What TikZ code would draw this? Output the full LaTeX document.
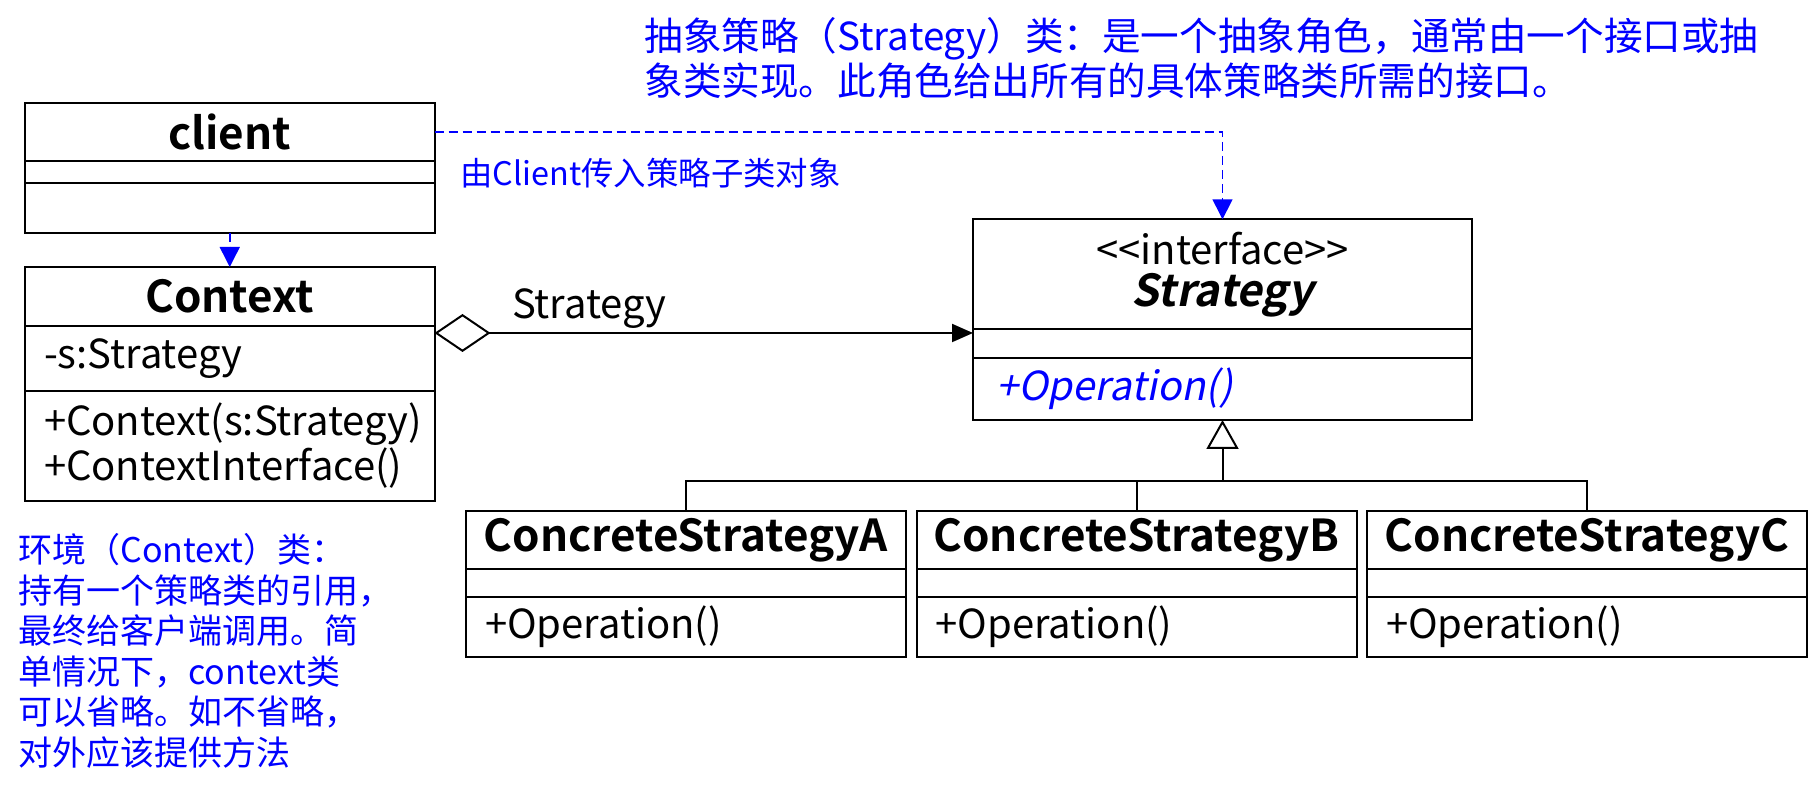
\documentclass[tikz,border=0pt]{standalone}
\usepackage{fontspec}
\setmainfont{Noto Sans CJK SC}[BoldFont={* Bold}, ItalicFont={*}, ItalicFeatures={FakeSlant=0.2}, BoldItalicFont={* Bold}, BoldItalicFeatures={FakeSlant=0.2}]
\definecolor{noteblue}{RGB}{0, 0, 255}
\usepackage{tikz}
\usetikzlibrary{arrows.meta, positioning}

\tikzset{
  classbox/.style={draw, line width=1pt, outer sep=0pt, inner ysep=0pt},
  classhead/.style={classbox, align=center, font=\fontsize{22}{21}\selectfont\bfseries},
  classpart/.style={classbox, align=left, inner xsep=9.5pt, font=\fontsize{20}{22.5}\selectfont},
  notetext/.style={text=noteblue, align=left, inner sep=0pt},
  depends/.style={noteblue, line width=0.75pt, dash pattern=on 4.5pt off 2.5pt, -{Triangle[length=10pt, width=10pt]}}
}

\begin{document}
\begin{tikzpicture}[x=0.5pt, y=-0.5pt]
  \useasboundingbox (0,0) rectangle (1813,790);

  % client
  \node[classhead, anchor=north west, minimum width=204.75pt, minimum height=29pt] (clienthead) at (25,103) {client};
  \node[classpart, below=0pt of clienthead, text width=185.75pt, minimum height=10.85pt] (clientattr) {};
  \node[classpart, below=0pt of clientattr, text width=185.75pt, minimum height=25pt] (clientops) {};

  % Context
  \node[classhead, below=17.15pt of clientops, minimum width=204.75pt, minimum height=29.5pt] (ctxhead) {Context};
  \node[classpart, below=0pt of ctxhead, text width=185.75pt, minimum height=32.35pt] (ctxattr) {-s:Strategy};
  \node[classpart, below=0pt of ctxattr, text width=185.75pt, minimum height=55.15pt] (ctxops) {+Context(s:Strategy)\\+ContextInterface()};

  % Strategy interface
  \node[classhead, anchor=north west, minimum width=249.5pt, minimum height=55pt] (strathead) at (973,219.3)
    {{\fontsize{20}{21}\selectfont\mdseries <{}<interface>{}>}\\\textit{Strategy}};
  \node[classpart, below=0pt of strathead, inner xsep=11.5pt, text width=226.5pt, minimum height=14.2pt] (stratattr) {};
  \node[classpart, below=0pt of stratattr, inner xsep=11.5pt, text width=226.5pt, minimum height=31.15pt,
    text=noteblue, font=\fontsize{20}{22.5}\selectfont\itshape] (stratops) {+Operation()};

  % concrete strategies
  \node[classhead, anchor=north west, minimum width=220pt, minimum height=29.3pt] (csahead) at (466,510.7) {ConcreteStrategyA};
  \node[classhead, right=5.25pt of csahead, minimum width=220pt, minimum height=29.3pt] (csbhead) {ConcreteStrategyB};
  \node[classhead, right=5.25pt of csbhead, minimum width=220pt, minimum height=29.3pt] (cschead) {ConcreteStrategyC};
  \foreach \cs in {csa, csb, csc} {
    \node[classpart, below=0pt of \cs head, text width=201pt, minimum height=14pt] (\cs attr) {};
    \node[classpart, below=0pt of \cs attr, text width=201pt, minimum height=29.7pt] (\cs ops) {+Operation()};
  }

  % dependencies
  \draw[depends] (clientops.south) -- (ctxhead.north);
  \draw[depends] (clienthead.east) -| (strathead.north);

  % aggregation
  \draw[line width=1pt, {Diamond[open, length=28pt, width=19pt]}-{Triangle[length=10.5pt, width=9pt]}]
    ([yshift=-3.5pt]ctxhead.south east) -- ([yshift=-3.5pt]ctxhead.south east -| strathead.west);
  \node[anchor=west, font=\fontsize{20}{24}\selectfont] (rolelabel) at (505,309) {Strategy};

  % realization
  \path (stratops.south) ++(0,61) coordinate (branch);
  \draw[line width=1pt, -{Triangle[open, length=14.5pt, width=16pt]}] (branch) -- (stratops.south);
  \draw[line width=1pt] (csahead.north) |- (branch) -| (cschead.north);
  \draw[line width=1pt] (csbhead.north) -- (csbhead.north |- branch);

  % notes
  \node[notetext, anchor=west, font=\fontsize{16.2}{19}\selectfont] (passnote) at (460,173) {由Client传入策略子类对象};
  \node[notetext, anchor=west, font=\fontsize{19.3}{22.5}\selectfont] (stratnote) at (644,58.5)
    {抽象策略（Strategy）类：是一个抽象角色，通常由一个接口或抽\\象类实现。此角色给出所有的具体策略类所需的接口。};
  \node[notetext, anchor=west, font=\fontsize{17}{20.25}\selectfont] (ctxnote) at (18,651)
    {环境（Context）类：\\持有一个策略类的引用，\\最终给客户端调用。简\\单情况下，context类\\可以省略。如不省略，\\对外应该提供方法};
\end{tikzpicture}
\end{document}
